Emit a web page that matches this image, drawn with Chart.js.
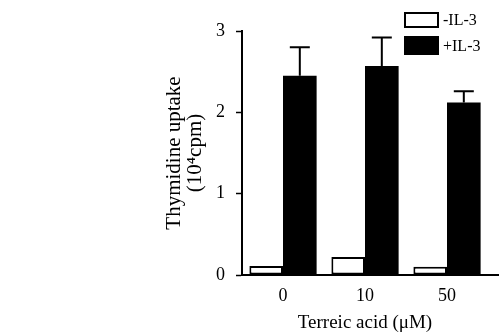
<!DOCTYPE html>
<html>
<head>
<meta charset="utf-8">
<script src="https://cdn.jsdelivr.net/npm/chart.js@4.4.1/dist/chart.umd.min.js"></script>
<style>
  html, body { margin: 0; padding: 0; background: #fff; }
  #wrap { width: 499px; height: 336px; position: relative; }
</style>
</head>
<body>
<div id="wrap"><canvas id="chart"></canvas></div>
<script>
const categories = ["0", "10", "50"];
const seriesLabels = ["-IL-3", "+IL-3"];
const withoutIL3 = [0.11, 0.22, 0.10];
const withIL3 = [2.45, 2.57, 2.12];
const withIL3Error = [0.35, 0.35, 0.14];
const yTicks = [0, 1, 2, 3];

const FONT = "'Liberation Serif', 'Times New Roman', serif";

// upper error bars with a cap, placed through the chart scales
const errorBars = {
  id: "errorBars",
  afterDatasetsDraw(chart) {
    const ctx = chart.ctx;
    const y = chart.scales.y;
    chart.data.datasets.forEach((ds, i) => {
      if (!ds.errors) return;
      const meta = chart.getDatasetMeta(i);
      meta.data.forEach((bar, j) => {
        const top = y.getPixelForValue(ds.data[j] + ds.errors[j]);
        ctx.save();
        ctx.strokeStyle = "#000";
        ctx.lineWidth = 2;
        ctx.beginPath();
        ctx.moveTo(bar.x, bar.y);
        ctx.lineTo(bar.x, top);
        ctx.moveTo(bar.x - 10, top);
        ctx.lineTo(bar.x + 10, top);
        ctx.stroke();
        ctx.restore();
      });
    });
  },
};

// x axis baseline runs on to the right edge of the figure
const baseline = {
  id: "baseline",
  afterDraw(chart) {
    const ctx = chart.ctx;
    const y0 = chart.scales.y.getPixelForValue(0);
    ctx.save();
    ctx.strokeStyle = "#000";
    ctx.lineWidth = 2;
    ctx.beginPath();
    ctx.moveTo(chart.chartArea.left, y0);
    ctx.lineTo(chart.width, y0);
    ctx.stroke();
    ctx.restore();
  },
};

// legend in the top-right corner, drawn over the plot area
const cornerLegend = {
  id: "cornerLegend",
  afterDraw(chart, args, opts) {
    const ctx = chart.ctx;
    ctx.save();
    ctx.font = "16px " + FONT;
    ctx.textBaseline = "middle";
    chart.data.datasets.forEach((ds, i) => {
      const box = opts.boxes[i];
      ctx.fillStyle = ds.backgroundColor;
      ctx.fillRect(box.x, box.y, box.w, box.h);
      ctx.strokeStyle = "#000";
      ctx.lineWidth = 2;
      ctx.strokeRect(box.x, box.y, box.w, box.h);
      ctx.fillStyle = "#000";
      ctx.fillText(ds.label, box.x + box.w + 5, box.y + box.h / 2 + 1);
    });
    ctx.restore();
  },
};

new Chart(document.getElementById("chart"), {
  type: "bar",
  data: {
    labels: categories,
    datasets: [
      {
        label: seriesLabels[0],
        data: withoutIL3,
        backgroundColor: "#fff",
        borderColor: "#000",
        borderWidth: 2,
        borderSkipped: false,
      },
      {
        label: seriesLabels[1],
        data: withIL3,
        errors: withIL3Error,
        backgroundColor: "#000",
        borderColor: "#000",
        borderWidth: 0,
      },
    ],
  },
  options: {
    responsive: true,
    maintainAspectRatio: false,
    animation: false,
    devicePixelRatio: 1,
    layout: { padding: { left: 164, right: 11, top: 31, bottom: 0 } },
    datasets: { bar: { categoryPercentage: 0.82, barPercentage: 1 } },
    plugins: {
      legend: { display: false },
      tooltip: { enabled: false },
      cornerLegend: {
        boxes: [
          { x: 405, y: 13, w: 33, h: 14 },
          { x: 405, y: 37, w: 33, h: 17 },
        ],
      },
    },
    scales: {
      x: {
        afterFit: (scale) => { scale.height = 61; },
        grid: { display: false, drawTicks: false },
        border: { display: false },
        ticks: { color: "#000", font: { family: FONT, size: 18 }, padding: 10 },
        title: {
          display: true,
          text: "Terreic acid (μM)",
          color: "#000",
          font: { family: FONT, size: 19 },
          padding: { top: 0, bottom: 2 },
        },
      },
      y: {
        min: 0,
        max: 3,
        afterFit: (scale) => { scale.width = 78; },
        afterBuildTicks: (scale) => {
          scale.ticks = yTicks.map((v) => ({ value: v }));
        },
        grid: { drawOnChartArea: false, tickLength: 6, color: "#000", tickWidth: 1.5 },
        border: { display: true, color: "#000", width: 2 },
        ticks: { color: "#000", font: { family: FONT, size: 18 }, padding: 11 },
        title: {
          display: true,
          text: ["Thymidine uptake", "(10⁴cpm)"],
          color: "#000",
          font: { family: FONT, size: 21, lineHeight: 1.0 },
          padding: 0,
        },
      },
    },
  },
  plugins: [errorBars, baseline, cornerLegend],
});
</script>
</body>
</html>
